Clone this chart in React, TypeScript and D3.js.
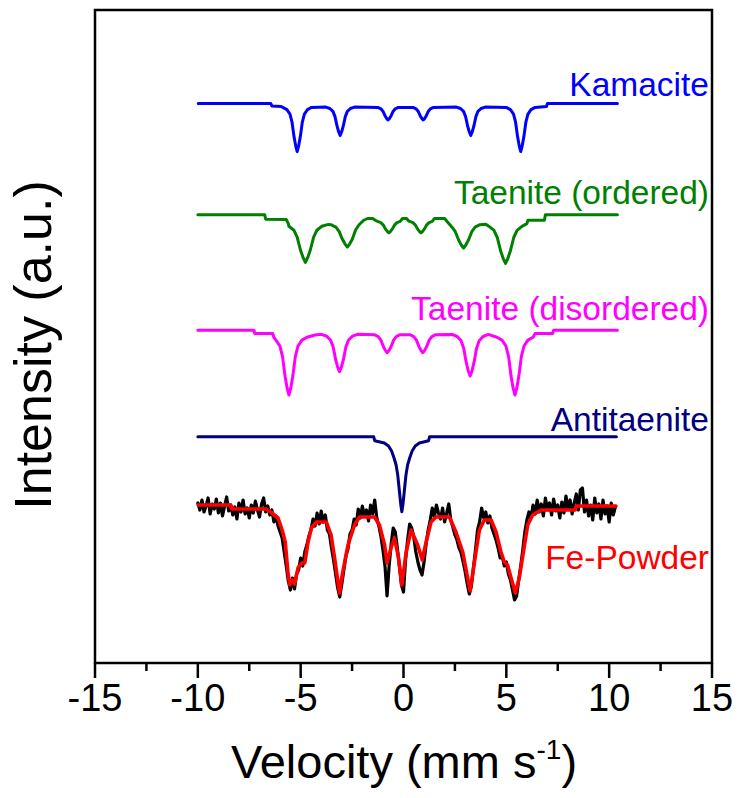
import React from 'react';
import * as d3 from 'd3';

// ---------------- data (velocity mm/s, intensity a.u.) ----------------
const xTicksMajor = [-15, -10, -5, 0, 5, 10, 15];
const xTicksMinor = [-12.5, -7.5, -2.5, 2.5, 7.5, 12.5];

const kamacite: [number, number][] = [
  [-9.98, 896.5], [-6.45, 896.5], [-6.4, 894], [-5.95, 893.5],
  [-5.87, 892.6], [-5.67, 890.4], [-5.52, 885.9], [-5.42, 877.8], [-5.32, 862.9], [-5.24, 853.9], [-5.17, 848.5],
  [-5.1, 853.9], [-5.02, 862.9], [-4.92, 877.8], [-4.82, 885.9], [-4.67, 890.4], [-4.47, 892.6],
  [-3.78, 892.9], [-3.58, 891.5], [-3.43, 888.6], [-3.33, 883.4], [-3.23, 873.8], [-3.15, 868], [-3.08, 864.5],
  [-3.01, 868], [-2.93, 873.8], [-2.83, 883.4], [-2.73, 888.6], [-2.58, 891.5], [-2.38, 892.9],
  [-1.25, 892.6], [-1.1, 891.2], [-1.0, 888.8], [-0.9, 884.3], [-0.82, 881.6], [-0.75, 880], [-0.68, 881.6],
  [-0.6, 884.3], [-0.5, 888.8], [-0.4, 891.2], [-0.25, 892.6],
  [0.46, 892.6], [0.61, 891.2], [0.71, 888.8], [0.81, 884.3], [0.89, 881.6], [0.96, 880], [1.03, 881.6],
  [1.11, 884.3], [1.21, 888.8], [1.31, 891.2], [1.46, 892.6],
  [2.57, 892.9], [2.77, 891.5], [2.92, 888.6], [3.02, 883.4], [3.12, 873.8], [3.2, 868], [3.27, 864.5],
  [3.34, 868], [3.42, 873.8], [3.52, 883.4], [3.62, 888.6], [3.77, 891.5], [3.97, 892.9],
  [5.0, 892.6], [5.2, 890.4], [5.35, 885.9], [5.45, 877.8], [5.55, 862.9], [5.63, 853.9], [5.7, 848.5],
  [5.77, 853.9], [5.85, 862.9], [5.95, 877.8], [6.05, 885.9], [6.2, 890.4], [6.4, 892.6],
  [6.95, 893.5], [7.0, 896.5], [10.4, 896.5],
];

const taeniteOrdered: [number, number][] = [
  [-10, 785.3], [-6.75, 785.3], [-6.7, 780.8], [-5.7, 780.5], [-5.6, 776.4],
  [-5.57, 773.7], [-5.33, 769.8], [-5.17, 762.8], [-5.01, 750], [-4.88, 742.3], [-4.77, 737.6], [-4.66, 742.3],
  [-4.53, 750], [-4.37, 762.8], [-4.21, 769.8], [-3.97, 773.7], [-3.65, 775.6],
  [-3.53, 775.3], [-3.29, 772.9], [-3.13, 768.6], [-2.97, 760.7], [-2.84, 755.9], [-2.73, 753], [-2.62, 755.9],
  [-2.49, 760.7], [-2.33, 770], [-2.17, 775], [-1.95, 779.5], [-1.75, 781.5], [-1.5, 781.5],
  [-1.35, 779.5], [-1.26, 778.6], [-1.1, 777.4], [-0.99, 775.2], [-0.88, 771.1], [-0.79, 768.7], [-0.71, 767.2],
  [-0.63, 768.7], [-0.54, 771.1], [-0.43, 775.2], [-0.32, 777.4], [-0.16, 778.6], [-0.05, 781.5], [0.15, 781.5],
  [0.25, 779], [0.3, 778.6], [0.46, 777.4], [0.57, 775.2], [0.68, 771.1], [0.77, 768.7], [0.85, 767.2],
  [0.93, 768.7], [1.02, 771.1], [1.13, 775.2], [1.24, 777.4], [1.4, 778.6], [1.5, 781.5], [2.0, 781.5],
  [2.12, 778.5], [2.36, 772.8], [2.52, 768.3], [2.68, 760], [2.81, 755], [2.92, 752], [3.03, 755], [3.16, 760],
  [3.32, 768.3], [3.48, 772.8], [3.72, 775.3], [4.0, 775.8],
  [4.16, 773.6], [4.4, 769.6], [4.56, 762.5], [4.72, 749.3], [4.85, 741.4], [4.96, 736.6], [5.07, 741.4],
  [5.2, 749.3], [5.36, 762.5], [5.52, 769.6], [5.76, 773.6], [6.0, 776.4], [6.05, 779.8], [6.85, 779.8],
  [6.9, 785.3], [10.4, 785.3],
];

const taeniteDisordered: [number, number][] = [
  [-10, 669.8], [-7.27, 669.8], [-7.23, 666.4], [-6.36, 666.4], [-6.3, 662.5],
  [-6.2, 659.9], [-6.01, 654], [-5.88, 643.4], [-5.76, 623.9], [-5.66, 612.1], [-5.57, 605], [-5.48, 612.1],
  [-5.38, 623.9], [-5.26, 643.4], [-5.13, 654], [-4.94, 659.9], [-4.69, 662.8], [-4.3, 665],
  [-3.99, 665.7], [-3.74, 663.8], [-3.55, 660], [-3.42, 653.1], [-3.3, 640.5], [-3.2, 632.9], [-3.11, 628.3],
  [-3.02, 632.9], [-2.92, 640.5], [-2.8, 653.1], [-2.67, 660], [-2.48, 663.8], [-2.23, 665.7],
  [-1.42, 665.3], [-1.23, 663.4], [-1.1, 659.9], [-0.98, 653.5], [-0.88, 649.6], [-0.79, 647.3], [-0.7, 649.6],
  [-0.6, 653.5], [-0.48, 659.9], [-0.35, 663.4], [-0.16, 665.3],
  [0.31, 665.3], [0.5, 663.4], [0.63, 659.9], [0.75, 653.5], [0.85, 649.6], [0.94, 647.3], [1.03, 649.6],
  [1.13, 653.5], [1.25, 659.9], [1.38, 663.4], [1.57, 665.3],
  [2.36, 665.6], [2.61, 663.5], [2.8, 659.3], [2.93, 651.6], [3.05, 637.6], [3.15, 629.1], [3.24, 624],
  [3.33, 629.1], [3.43, 637.6], [3.55, 651.6], [3.68, 659.3], [3.87, 663.5], [4.12, 665.6],
  [4.54, 662.8], [4.79, 659.9], [4.98, 654], [5.11, 643.4], [5.23, 623.9], [5.33, 612.1], [5.42, 605],
  [5.51, 612.1], [5.61, 623.9], [5.73, 643.4], [5.86, 654], [6.05, 659.9], [6.3, 662.8], [6.4, 666.4],
  [7.25, 666.4], [7.3, 669.8], [10.4, 669.8],
];

const antitaenite: [number, number][] = [
  [-10, 563.3], [-1.45, 563.3], [-1.4, 559.3], [-0.93, 557], [-0.73, 554], [-0.58, 549], [-0.46, 542],
  [-0.36, 535], [-0.28, 525], [-0.2, 509], [-0.13, 495], [-0.08, 488.3], [-0.03, 495], [0.04, 509],
  [0.12, 525], [0.2, 535], [0.3, 542], [0.42, 549], [0.57, 554], [0.77, 557], [1.22, 559.3], [1.27, 563.3],
  [10.35, 563.3],
];

const fePowderFit: [number, number][] = [
  [-9.98, 495], [-8.4, 495], [-8.35, 491], [-6.7, 491], [-6.45, 488], [-6.1, 482], [-5.9, 470], [-5.75, 458],
  [-5.62, 428], [-5.53, 415], [-5.41, 420], [-5.29, 416], [-5.13, 432], [-4.96, 437], [-4.8, 437],
  [-4.64, 458], [-4.48, 472], [-4.24, 478], [-3.75, 478], [-3.52, 465], [-3.35, 442], [-3.2, 420],
  [-3.11, 407], [-3.02, 420], [-2.95, 428], [-2.7, 455], [-2.38, 475], [-2.14, 483], [-1.41, 483],
  [-1.17, 475], [-0.92, 455], [-0.8, 437], [-0.61, 452], [-0.44, 462], [-0.24, 442], [-0.08, 415],
  [0.13, 448], [0.37, 470], [0.69, 455], [0.91, 440], [1.1, 458], [1.34, 478], [1.58, 483], [2.23, 483],
  [2.55, 468], [2.88, 448], [3.12, 422], [3.24, 409], [3.45, 438], [3.69, 470], [3.93, 480], [4.26, 480],
  [4.5, 468], [4.74, 448], [4.9, 438], [5.06, 435], [5.23, 422], [5.44, 407], [5.63, 422], [5.83, 448],
  [6.04, 475], [6.28, 485], [6.6, 489], [6.7, 490], [8.35, 490], [8.4, 494], [10.33, 494],
];

const fePowderData: [number, number][] = [
  [-10.0, 497], [-9.9, 490], [-9.8, 500], [-9.7, 488], [-9.6, 494], [-9.5, 502], [-9.4, 486], [-9.3, 496],
  [-9.2, 491], [-9.1, 501], [-9.0, 487], [-8.9, 497], [-8.8, 484], [-8.7, 494], [-8.6, 503], [-8.5, 489],
  [-8.4, 495], [-8.3, 485], [-8.2, 493], [-8.1, 481], [-8.0, 497], [-7.9, 488], [-7.8, 500], [-7.7, 486],
  [-7.6, 492], [-7.5, 482], [-7.4, 495], [-7.3, 487], [-7.2, 499], [-7.1, 490], [-7.0, 483], [-6.9, 496],
  [-6.8, 502], [-6.7, 488], [-6.6, 494], [-6.5, 485], [-6.4, 490], [-6.3, 478], [-6.2, 484], [-6.1, 474],
  [-6.0, 468], [-5.9, 462], [-5.8, 448], [-5.7, 434], [-5.6, 419], [-5.5, 410], [-5.4, 422], [-5.3, 411],
  [-5.2, 426], [-5.1, 430], [-5.0, 442], [-4.9, 434], [-4.8, 448], [-4.7, 455], [-4.6, 464], [-4.5, 470],
  [-4.4, 481], [-4.3, 474], [-4.2, 487], [-4.1, 476], [-4.0, 489], [-3.9, 478], [-3.8, 485], [-3.7, 470],
  [-3.6, 466], [-3.5, 452], [-3.4, 440], [-3.3, 426], [-3.2, 412], [-3.1, 403], [-3.0, 416], [-2.9, 430],
  [-2.8, 444], [-2.7, 451], [-2.6, 466], [-2.5, 470], [-2.4, 481], [-2.3, 475], [-2.2, 491], [-2.1, 482],
  [-2.0, 494], [-1.9, 484], [-1.8, 490], [-1.7, 479], [-1.6, 495], [-1.5, 486], [-1.4, 500], [-1.3, 482],
  [-1.2, 474], [-1.1, 464], [-1.0, 450], [-0.9, 434], [-0.8, 404], [-0.7, 434], [-0.6, 456], [-0.5, 472],
  [-0.4, 468], [-0.3, 452], [-0.2, 434], [-0.1, 415], [0.0, 408], [0.1, 440], [0.2, 460], [0.3, 476],
  [0.4, 472], [0.5, 463], [0.6, 448], [0.7, 438], [0.8, 430], [0.9, 425], [1.0, 438], [1.1, 456],
  [1.2, 470], [1.3, 480], [1.4, 492], [1.5, 483], [1.6, 495], [1.7, 487], [1.8, 481], [1.9, 492],
  [2.0, 478], [2.1, 487], [2.2, 496], [2.3, 480], [2.4, 473], [2.5, 465], [2.6, 460], [2.7, 452],
  [2.8, 447], [2.9, 438], [3.0, 428], [3.1, 416], [3.2, 406], [3.3, 414], [3.4, 432], [3.5, 450],
  [3.6, 470], [3.7, 478], [3.8, 492], [3.9, 482], [4.0, 488], [4.1, 477], [4.2, 484], [4.3, 472],
  [4.4, 466], [4.5, 460], [4.6, 452], [4.7, 442], [4.8, 444], [4.9, 434], [5.0, 438], [5.1, 426],
  [5.2, 420], [5.3, 410], [5.4, 400], [5.5, 404], [5.6, 420], [5.7, 434], [5.8, 450], [5.9, 468],
  [6.0, 480], [6.1, 488], [6.2, 482], [6.3, 495], [6.4, 486], [6.5, 500], [6.6, 488], [6.7, 496],
  [6.8, 484], [6.9, 502], [7.0, 490], [7.1, 497], [7.2, 485], [7.3, 501], [7.4, 489], [7.5, 495],
  [7.6, 482], [7.7, 498], [7.8, 487], [7.9, 504], [8.0, 491], [8.1, 500], [8.2, 486], [8.3, 497],
  [8.4, 506], [8.5, 490], [8.6, 510], [8.7, 512], [8.8, 488], [8.9, 500], [9.0, 484], [9.1, 495],
  [9.2, 480], [9.3, 502], [9.4, 487], [9.5, 496], [9.6, 481], [9.7, 500], [9.8, 486], [9.9, 494],
  [10.0, 478], [10.1, 497], [10.2, 485], [10.3, 493],
];

const seriesNames = ['Kamacite', 'Taenite (ordered)', 'Taenite (disordered)', 'Antitaenite', 'Fe-Powder'];
const seriesColors = ['#0000FF', '#008000', '#FF00FF', '#000080', '#FF0000'];

// ---------------- layout ----------------
const W = 744;
const H = 798;
const left = 95;
const right = 712;
const top = 10;
const bottom = 663;
const FONT = "Arial, 'Liberation Sans', Helvetica, sans-serif";

export default function App() {
  const x = d3.scaleLinear().domain([-15, 15]).range([left, right]);
  const y = d3.scaleLinear().domain([337, 990]).range([bottom, top]);
  const line = d3
    .line<[number, number]>()
    .x((d) => x(d[0]))
    .y((d) => y(d[1]));

  const curves: { data: [number, number][]; color: string; w: number }[] = [
    { data: kamacite, color: seriesColors[0], w: 3 },
    { data: taeniteOrdered, color: seriesColors[1], w: 3 },
    { data: taeniteDisordered, color: seriesColors[2], w: 3 },
    { data: antitaenite, color: seriesColors[3], w: 3 },
    { data: fePowderData, color: '#000000', w: 3.2 },
    { data: fePowderFit, color: seriesColors[4], w: 3.6 },
  ];

  const labelY = [95.5, 203.5, 319.5, 430.5, 569];

  return (
    <svg
      width={W}
      height={H}
      style={{ position: 'absolute', left: 0, top: 0, background: '#fff' }}
      fontFamily={FONT}
    >
      <rect x={0} y={0} width={W} height={H} fill="#fff" />
      {curves.map((c, i) => (
        <path
          key={i}
          d={line(c.data) || ''}
          fill="none"
          stroke={c.color}
          strokeWidth={c.w}
          strokeLinejoin="round"
          strokeLinecap="round"
        />
      ))}
      {seriesNames.map((n, i) => (
        <text key={n} x={709} y={labelY[i]} textAnchor="end" fontSize={33.5} fill={seriesColors[i]}>
          {n}
        </text>
      ))}
      <rect x={left} y={top} width={right - left} height={bottom - top} fill="none" stroke="#000" strokeWidth={2.5} />
      {xTicksMajor.map((t) => (
        <g key={'M' + t}>
          <line x1={x(t)} x2={x(t)} y1={bottom} y2={bottom + 15} stroke="#000" strokeWidth={2.5} />
          <text x={x(t)} y={711} textAnchor="middle" fontSize={38} fill="#000">
            {String(t)}
          </text>
        </g>
      ))}
      {xTicksMinor.map((t) => (
        <line key={'m' + t} x1={x(t)} x2={x(t)} y1={bottom} y2={bottom + 8} stroke="#000" strokeWidth={2.5} />
      ))}
      <text x={404} y={778} textAnchor="middle" fontSize={47} fill="#000">
        Velocity (mm s
        <tspan fontSize={28} dy={-19}>-1</tspan>
        <tspan dy={19}>)</tspan>
      </text>
      <text transform="translate(51,345) rotate(-90)" textAnchor="middle" fontSize={52} fill="#000">
        Intensity (a.u.)
      </text>
    </svg>
  );
}
